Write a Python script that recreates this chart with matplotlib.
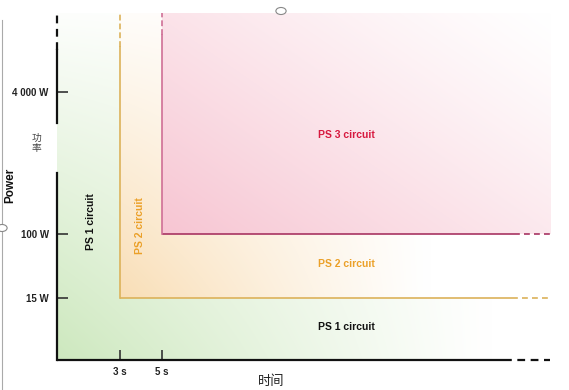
import matplotlib
matplotlib.use("Agg")
import matplotlib.pyplot as plt
from matplotlib.patches import Circle
from matplotlib.lines import Line2D
import numpy as np

# ---- data ----
time_ticks = [3, 5]
time_tick_labels = ["3 s", "5 s"]
power_ticks = [15, 100, 4000]
power_tick_labels = ["15 W", "100 W", "4 000 W"]
time_limits = (0, 23.5)
power_limits = (1, 1e5)
# schematic (non-linear) spacing of the power levels on the axis
power_anchor = [1, 15, 100, 4000, 1e5]
power_anchor_pos = [0, 62, 126, 268, 347]

circuit_names = ["PS 1 circuit", "PS 2 circuit", "PS 3 circuit"]
circuit_start_time = [0, 3, 5]
circuit_min_power = [1, 15, 100]
circuit_label_time = [13.8, 13.8, 13.8]
circuit_label_power = [4.2, 41, 1300]
side_label_time = [1.6, 3.95]
side_label_power = [137, 126]

# ---- style ----
FONT = "Liberation Sans"
text_colors = ["#111111", "#eba028", "#d7193f"]
fill_colors = [(205, 232, 190), (249, 222, 182), (247, 197, 210)]
line_colors = ["#111111", "#dcb25a", "#a83462"]
vline_colors = ["#111111", "#dcb25a", "#cf6f96"]

log_anchor = np.log10(power_anchor)


def fwd(v):
    v = np.clip(np.asarray(v, dtype=float), 1e-9, None)
    return np.interp(np.log10(v), log_anchor, power_anchor_pos)


def inv(p):
    return 10 ** np.interp(np.asarray(p, dtype=float), power_anchor_pos, log_anchor)


fig = plt.figure(figsize=(5.69, 3.90), dpi=100)
ax = fig.add_axes([57 / 569, 30 / 390, 493 / 569, 347 / 390])
ax.set_yscale("function", functions=(fwd, inv))
ax.set_xlim(*time_limits)
ax.set_ylim(*power_limits)
to_axes = ax.transScale + ax.transLimits


def frac(t, p):
    return to_axes.transform((t, p))


# gradient weights in screen space (u: left->right, w: bottom->top)
n = 200
u, w = np.meshgrid(np.linspace(0, 1, n), np.linspace(0, 1, n))
pink_w = (1 - u) * (1 - w) + 0.55 * (1 - u) * w + 0.45 * u * (1 - w)
weights = [
    np.clip(1 - u / 0.88, 0, 1) ** 1.1 * np.clip(1 - w / 1.05, 0, 1) ** 1.0,
    np.clip(1 - u / 0.72, 0, 1) ** 1.1 * np.clip(1 - w / 1.1, 0, 1) ** 1.1,
    pink_w ** 1.2,
]

for i in range(3):
    x0, y0 = frac(circuit_start_time[i], circuit_min_power[i])
    base = np.array(fill_colors[i]) / 255
    rgb = 1 - weights[i][..., None] * (1 - base)
    ax.imshow(rgb, extent=[x0, 1, y0, 1], origin="lower", transform=ax.transAxes,
              aspect="auto", interpolation="bilinear", zorder=0)
ax.set_xlim(*time_limits)
ax.set_ylim(*power_limits)

dash = dict(dashes=(3.5, 2.5))
xt = ax.get_xaxis_transform()

# x axis (solid then dashed tail)
ax.plot([0, 21.3], [1, 1], color="#111111", lw=1.6, clip_on=False, zorder=5, solid_capstyle="butt")
ax.plot([21.3, 23.5], [1, 1], color="#111111", lw=1.6, clip_on=False, zorder=5, **dash)
# y axis with a gap and dashed top
ta = ax.transAxes
ax.plot([0, 0], [0, 0.539], color="#111111", lw=1.6, transform=ta, clip_on=False, zorder=5)
ax.plot([0, 0], [0.683, 0.893], color="#111111", lw=1.6, transform=ta, clip_on=False, zorder=5)
ax.plot([0, 0], [0.893, 1.0], color="#111111", lw=1.6, transform=ta, clip_on=False, zorder=5, **dash)

# circuit boundaries
v_break = [None, 0.902, 0.937]
h_break = [None, 21.7, 21.8]
for i in (1, 2):
    t0, p0 = circuit_start_time[i], circuit_min_power[i]
    ax.plot([t0, h_break[i]], [p0, p0], color=line_colors[i], lw=1.2, zorder=4, solid_capstyle="butt")
    ax.plot([h_break[i], 23.5], [p0, p0], color=line_colors[i], lw=1.2, zorder=4, **dash)
    yb = frac(t0, p0)[1]
    ax.plot([t0, t0], [yb, v_break[i]], color=vline_colors[i], lw=1.2, transform=xt, zorder=4)
    ax.plot([t0, t0], [v_break[i], 1.0], color=vline_colors[i], lw=1.2, transform=xt, zorder=4,
            dashes=(3.5, 1.8))

# ticks
for s in ax.spines.values():
    s.set_visible(False)
ax.set_xticks(time_ticks, time_tick_labels)
ax.set_yticks(power_ticks, power_tick_labels)
ax.minorticks_off()
ax.tick_params(axis="both", direction="in", length=7, width=1.2, color="#333333",
               labelsize=7, labelcolor="#222222")
ax.tick_params(axis="y", pad=6, length=8)
ax.tick_params(axis="x", pad=5)
for lab in ax.get_xticklabels() + ax.get_yticklabels():
    lab.set_fontfamily(FONT)
    lab.set_fontweight("bold")

# circuit labels
for i in range(3):
    ax.text(circuit_label_time[i], circuit_label_power[i], circuit_names[i], color=text_colors[i],
            fontsize=7.5, fontweight="bold", family=FONT, ha="center", va="center", zorder=6)
for i in range(2):
    ax.text(side_label_time[i], side_label_power[i], circuit_names[i], color=text_colors[i],
            fontsize=7.5, fontweight="bold", family=FONT, ha="center", va="center",
            rotation=90, zorder=6)

# axis titles
fig.text(10 / 569, 1 - 185 / 390, "Power", rotation=90, fontsize=8.5, fontweight="bold",
         family=FONT, ha="center", va="center", color="#111111")
fig.text(36 / 569, 1 - 143 / 390, "功\n率", fontsize=7, family=["Noto Sans CJK SC", "DejaVu Sans"],
         ha="center", va="center", linespacing=1.0, color="#444444")
fig.text(271 / 569, 1 - 382 / 390, "时间", fontsize=9.5, family=["Noto Sans CJK SC", "DejaVu Sans"],
         ha="center", va="center", color="#222222")

# screenshot frame remnants
fig.add_artist(Line2D([1.5 / 569, 1.5 / 569], [0, 1 - 20 / 390], color="#aaaaaa", lw=0.8))
fig.add_artist(Circle((2 / 569, 1 - 228 / 390), 0.009, transform=fig.transFigure,
                      facecolor="white", edgecolor="#888888", lw=0.8, zorder=10))
fig.add_artist(Circle((281 / 569, 1 - 11 / 390), 0.009, transform=fig.transFigure,
                      facecolor="white", edgecolor="#888888", lw=0.8, zorder=10))

fig.savefig("out.png", dpi=100)
plt.close(fig)
